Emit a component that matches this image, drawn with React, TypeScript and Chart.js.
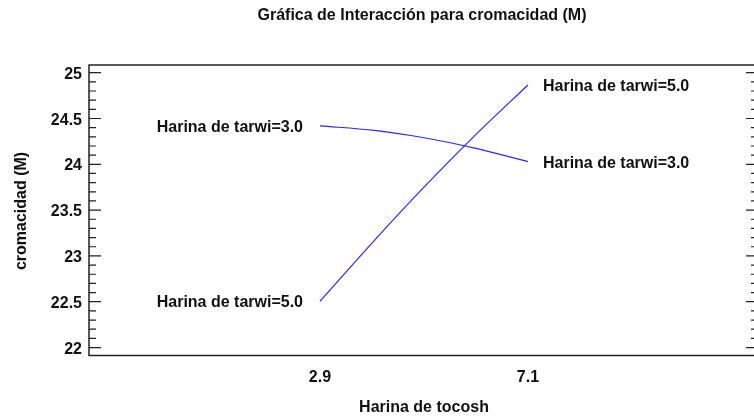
import React, { useEffect, useRef } from "react";
import { Chart, registerables } from "chart.js";

Chart.register(...registerables);

const TITLE = "Gráfica de Interacción para cromacidad (M)";
const X_TITLE = "Harina de tocosh";
const Y_TITLE = "cromacidad (M)";
const X_LEVELS = [2.9, 4.0, 5.0, 6.0, 7.1];
const X_TICKS = [2.9, 7.1];
const Y_TICKS = [22, 22.5, 23, 23.5, 24, 24.5, 25];
const SERIES_LABELS = ["Harina de tarwi=3.0", "Harina de tarwi=5.0"];
const TARWI_3 = [24.42, 24.37, 24.29, 24.18, 24.03];
const TARWI_5 = [22.505, 23.17, 23.75, 24.3, 24.866];

const FONT = 'bold 16px "Liberation Sans", Arial, sans-serif';

const framePlugin = {
  id: "frameAndText",
  afterDraw(chart: any) {
    const ctx = chart.ctx;
    const { left, right, top, bottom } = chart.chartArea;
    const xs = chart.scales.x;
    const ys = chart.scales.y;
    ctx.save();
    ctx.strokeStyle = "#222";
    ctx.lineWidth = 1.5;
    ctx.beginPath();
    ctx.moveTo(right + 10, top);
    ctx.lineTo(left, top);
    ctx.lineTo(left, bottom);
    ctx.lineTo(right + 10, bottom);
    ctx.stroke();

    // ticks (major at 0.5, minor at 0.1)
    ctx.lineWidth = 1.2;
    const rEdge = right + 4;
    for (let i = 0; i <= 30; i++) {
      const v = 22 + i * 0.1;
      const y = ys.getPixelForValue(v);
      const major = i % 5 === 0;
      const len = major ? 12 : 7;
      ctx.beginPath();
      ctx.moveTo(left, y);
      ctx.lineTo(left + len, y);
      ctx.moveTo(rEdge, y);
      ctx.lineTo(rEdge - len, y);
      ctx.stroke();
    }

    ctx.fillStyle = "#111";
    ctx.font = FONT;
    ctx.textAlign = "right";
    ctx.textBaseline = "alphabetic";
    Y_TICKS.forEach((v) => {
      const y = ys.getPixelForValue(v);
      ctx.fillText(String(v), left - 7, y + 6);
    });
    ctx.textAlign = "center";
    X_TICKS.forEach((v) => {
      ctx.fillText(String(v), xs.getPixelForValue(v), 382);
    });
    ctx.fillText(TITLE, 422, 20);
    ctx.fillText(X_TITLE, 424, 412);
    ctx.save();
    ctx.translate(26, 211);
    ctx.rotate(-Math.PI / 2);
    ctx.fillText(Y_TITLE, 0, 0);
    ctx.restore();

    chart.data.datasets.forEach((ds: any) => {
      const first = ds.data[0];
      const last = ds.data[ds.data.length - 1];
      const x0 = xs.getPixelForValue(first.x);
      const y0 = ys.getPixelForValue(first.y);
      const x1 = xs.getPixelForValue(last.x);
      const y1 = ys.getPixelForValue(last.y);
      ctx.textAlign = "right";
      ctx.fillText(ds.label, x0 - 17, y0 + 6);
      ctx.textAlign = "left";
      ctx.fillText(ds.label, x1 + 15, y1 + 6);
    });
    ctx.restore();
  },
};

export default function App() {
  const ref = useRef<HTMLCanvasElement>(null);
  useEffect(() => {
    if (!ref.current) return;
    const mk = (vals: number[]) => X_LEVELS.map((x, i) => ({ x, y: vals[i] }));
    const chart = new Chart(ref.current, {
      type: "line",
      data: {
        datasets: [
          {
            label: SERIES_LABELS[0],
            data: mk(TARWI_3),
            borderColor: "rgb(40,40,255)",
            borderWidth: 1.2,
            pointRadius: 0,
            cubicInterpolationMode: "monotone",
            fill: false,
          },
          {
            label: SERIES_LABELS[1],
            data: mk(TARWI_5),
            borderColor: "rgb(40,40,255)",
            borderWidth: 1.2,
            pointRadius: 0,
            cubicInterpolationMode: "monotone",
            fill: false,
          },
        ],
      },
      options: {
        responsive: false,
        animation: false,
        layout: { padding: { left: 89, top: 65, right: 0, bottom: 60.5 } },
        scales: {
          x: { type: "linear", display: false, min: -1.765, max: 11.665 },
          y: { type: "linear", display: false, min: 21.913, max: 25.084 },
        },
        plugins: {
          legend: { display: false },
          tooltip: { enabled: false },
          title: { display: false },
        },
      },
      plugins: [framePlugin],
    });
    return () => chart.destroy();
  }, []);
  return (
    <div style={{ position: "fixed", left: 0, top: 0, width: 754, height: 416, background: "#fff" }}>
      <canvas ref={ref} width={754} height={416} style={{ display: "block" }} />
    </div>
  );
}
